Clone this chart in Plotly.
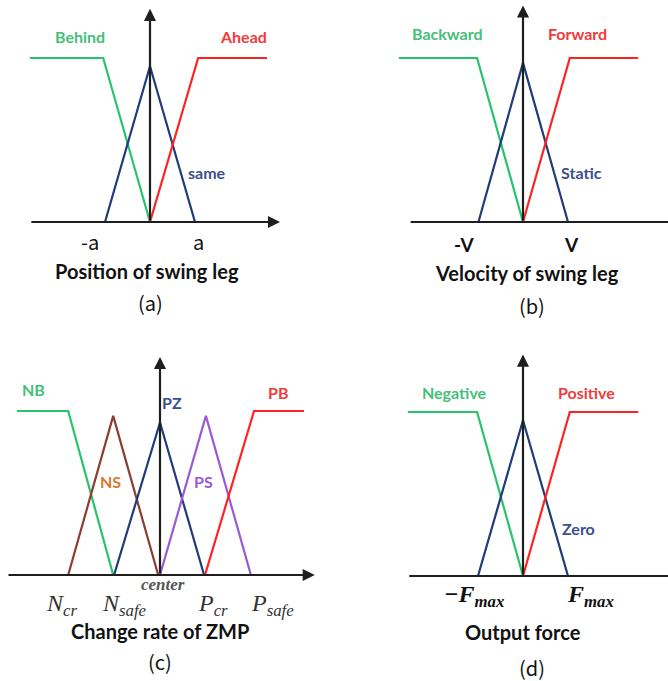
import plotly.graph_objects as go

# ---------------- data (membership functions, in normalized units) ----------------
# panel (a) Position of swing leg
a_behind_x = [-2.67, -1.04, 0.0]
a_behind_y = [1.0, 1.0, 0.0]
a_same_x = [-1.0, 0.0, 1.0]
a_same_y = [0.0, 0.95, 0.0]
a_ahead_x = [0.0, 1.07, 2.6]
a_ahead_y = [0.0, 1.0, 1.0]

# panel (b) Velocity of swing leg
b_backward_x = [-2.76, -1.02, 0.0]
b_backward_y = [1.0, 1.0, 0.0]
b_static_x = [-0.99, 0.0, 1.0]
b_static_y = [0.0, 0.97, 0.0]
b_forward_x = [0.0, 1.04, 2.56]
b_forward_y = [0.0, 1.0, 1.0]

# panel (c) Change rate of ZMP
c_nb_x = [-3.18, -2.04, -1.04]
c_nb_y = [1.0, 1.0, 0.0]
c_ns_x = [-2.04, -1.04, -0.04]
c_ns_y = [0.0, 0.97, 0.0]
c_pz_x = [-1.02, 0.0, 0.98]
c_pz_y = [0.0, 0.93, 0.0]
c_ps_x = [0.0, 1.02, 2.02]
c_ps_y = [0.0, 0.97, 0.0]
c_pb_x = [1.0, 2.09, 3.2]
c_pb_y = [0.0, 1.0, 1.0]

# panel (d) Output force
d_negative_x = [-2.56, -1.02, 0.0]
d_negative_y = [1.0, 1.0, 0.0]
d_zero_x = [-1.0, 0.0, 1.0]
d_zero_y = [0.0, 0.95, 0.0]
d_positive_x = [0.0, 1.04, 2.56]
d_positive_y = [0.0, 1.0, 1.0]

# ---------------- styles ----------------
W, H = 668, 681
SX, SY = 45.0, 164.0  # px per unit
GREEN, RED, BLUE, BROWN, PURPLE = "#27c46b", "#ff2222", "#1f3b7a", "#8b3d33", "#9b59d6"
GREEN_T, RED_T, BLUE_T, NS_T, PURPLE_T = "#45c07a", "#f23b3b", "#3b4f8c", "#d9782f", "#9b59d6"
AX = "#1e1e1e"
LBL_FONT = "Lato"
MATH_FONT = "Liberation Serif"
CJK = "Noto Sans CJK JP"

# panel boxes: (x0px, x1px, y0px, y1px, center_x_px, baseline_y_px)
panels = {
    1: (0, 334, 0, 340, 150, 222),
    2: (334, 668, 0, 340, 523, 222),
    3: (0, 334, 340, 681, 160, 575),
    4: (334, 668, 340, 681, 523, 576),
}

fig = go.Figure()
layout = dict(width=W, height=H, margin=dict(l=0, r=0, t=0, b=0),
              paper_bgcolor="white", plot_bgcolor="white", showlegend=False)
for k, (x0, x1, y0, y1, cx, by) in panels.items():
    sfx = "" if k == 1 else str(k)
    layout["xaxis" + sfx] = dict(domain=[x0 / W, x1 / W], range=[(x0 - cx) / SX, (x1 - cx) / SX],
                                 visible=False, fixedrange=True, anchor="y" + sfx)
    layout["yaxis" + sfx] = dict(domain=[1 - y1 / H, 1 - y0 / H], range=[-(y1 - by) / SY, (by - y0) / SY],
                                 visible=False, fixedrange=True, anchor="x" + sfx)
fig.update_layout(**layout)


def ref(k):
    return ("x" if k == 1 else "x%d" % k), ("y" if k == 1 else "y%d" % k)


def line(k, xs, ys, color, width=2.2):
    xr, yr = ref(k)
    fig.add_trace(go.Scatter(x=xs, y=ys, mode="lines", line=dict(color=color, width=width),
                             xaxis=xr, yaxis=yr, hoverinfo="skip"))


def arrow(k, x0, y0, x1, y1, head=True):
    xr, yr = ref(k)
    fig.add_annotation(x=x1, y=y1, ax=x0, ay=y0, xref=xr, yref=yr, axref=xr, ayref=yr,
                       text="", showarrow=True, arrowhead=2 if head else 0, arrowsize=1.1,
                       arrowwidth=2.2, arrowcolor=AX, standoff=0)


def text(k, x, y, s, color="#111", size=15, family=LBL_FONT, bold=True):
    xr, yr = ref(k)
    fig.add_annotation(x=x, y=y, xref=xr, yref=yr, text=("<b>%s</b>" % s) if bold else s,
                       showarrow=False, font=dict(color=color, size=size, family=family),
                       xanchor="center", yanchor="middle")


# ---- panel (a)
line(1, a_behind_x, a_behind_y, GREEN)
line(1, a_same_x, a_same_y, BLUE)
line(1, a_ahead_x, a_ahead_y, RED)
arrow(1, -2.67, 0, 2.89, 0)
arrow(1, 0, 0, 0, 1.30)
text(1, -1.56, 1.13, "Behind", GREEN_T, 16)
text(1, 2.07, 1.13, "Ahead", RED_T, 16)
text(1, 1.27, 0.30, "same", BLUE_T, 16)
text(1, -1.33, -0.12, "-a", "#111", 20, family=CJK, bold=False)
text(1, 1.07, -0.12, "a", "#111", 20, family=CJK, bold=False)
text(1, -0.07, -0.30, "Position of swing leg", "#111", 20)
text(1, 0.0, -0.49, "(a)", "#111", 20, family=CJK, bold=False)

# ---- panel (b)
line(2, b_backward_x, b_backward_y, GREEN)
line(2, b_static_x, b_static_y, BLUE)
line(2, b_forward_x, b_forward_y, RED)
arrow(2, -2.53, 0, 3.3, 0, head=False)
arrow(2, 0, 0, 0, 1.32)
text(2, -1.69, 1.15, "Backward", GREEN_T, 16)
text(2, 1.2, 1.15, "Forward", RED_T, 16)
text(2, 1.29, 0.30, "Static", BLUE_T, 16)
text(2, -1.31, -0.14, "-V", "#111", 19)
text(2, 1.07, -0.14, "V", "#111", 19)
text(2, 0.09, -0.31, "Velocity of swing leg", "#111", 20)
text(2, 0.2, -0.51, "(b)", "#111", 20, family=CJK, bold=False)

# ---- panel (c)
line(3, c_nb_x, c_nb_y, GREEN)
line(3, c_ns_x, c_ns_y, BROWN)
line(3, c_pz_x, c_pz_y, BLUE)
line(3, c_ps_x, c_ps_y, PURPLE)
line(3, c_pb_x, c_pb_y, RED)
arrow(3, -3.4, 0, 3.44, 0)
arrow(3, 0, 0, 0, 1.33)
text(3, -2.82, 1.13, "NB", GREEN_T, 16)
text(3, 0.27, 1.05, "PZ", BLUE_T, 16)
text(3, 2.62, 1.11, "PB", RED_T, 16)
text(3, -1.11, 0.57, "NS", NS_T, 16)
text(3, 0.96, 0.57, "PS", PURPLE_T, 16)
text(3, 0.07, -0.06, "<i>center</i>", "#555", 17, family=MATH_FONT)
text(3, -2.18, -0.18, "<i>N<sub>cr</sub></i>", "#333", 24, family=MATH_FONT, bold=False)
text(3, -0.78, -0.18, "<i>N<sub>safe</sub></i>", "#333", 24, family=MATH_FONT, bold=False)
text(3, 1.18, -0.18, "<i>P<sub>cr</sub></i>", "#333", 24, family=MATH_FONT, bold=False)
text(3, 2.51, -0.18, "<i>P<sub>safe</sub></i>", "#333", 24, family=MATH_FONT, bold=False)
text(3, 0.0, -0.34, "Change rate of ZMP", "#111", 20)
text(3, 0.0, -0.53, "(c)", "#111", 20, family=CJK, bold=False)

# ---- panel (d)
line(4, d_negative_x, d_negative_y, GREEN)
line(4, d_zero_x, d_zero_y, BLUE)
line(4, d_positive_x, d_positive_y, RED)
arrow(4, -2.56, 0, 3.3, 0, head=False)
arrow(4, 0, 0, 0, 1.35)
text(4, -1.53, 1.12, "Negative", GREEN_T, 16)
text(4, 1.4, 1.12, "Positive", RED_T, 16)
text(4, 1.24, 0.29, "Zero", BLUE_T, 16)
text(4, -1.09, -0.12, "<i>−F<sub>max</sub></i>", "#111", 24, family=MATH_FONT)
text(4, 1.51, -0.12, "<i>F<sub>max</sub></i>", "#111", 24, family=MATH_FONT)
text(4, 0.0, -0.34, "Output force", "#111", 20)
text(4, 0.2, -0.56, "(d)", "#111", 20, family=CJK, bold=False)

fig.write_html("out.html")
